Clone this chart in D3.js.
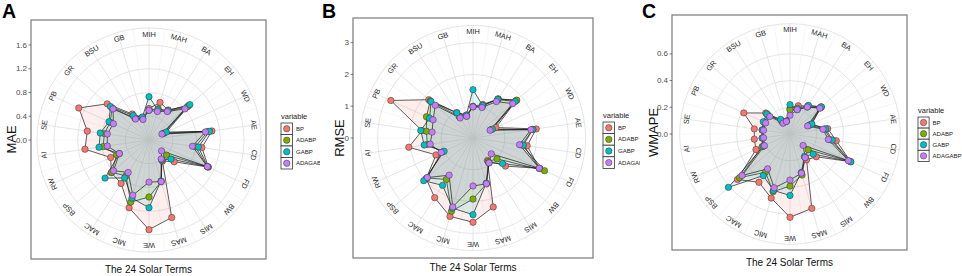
<!DOCTYPE html>
<html>
<head>
<meta charset="utf-8">
<script src="https://cdn.jsdelivr.net/npm/d3@7"></script>
<style>
    body { margin: 0; background: #fff; }
    svg { display: block; }
    text { font-family: "Liberation Sans", Arial, sans-serif; }
</style>
</head>
<body>
<div id="chart"></div>
<script>
// radar charts of the three error metrics over the solar terms

const terms = ["MIH", "MAH", "BA", "EH", "WD", "AE", "CD", "FD", "BW", "MIS", "MAS",
    "WE", "MIC", "MAC", "BSP", "RW", "AI", "SE", "PB", "GR", "BSU", "GB"];
const seriesNames = ["BP", "ADABP", "GABP", "ADAGABP"];
const seriesColors = ["#F8766D", "#7CAE00", "#00BFC4", "#C77CFF"];

// MAE
const maeBP      = [0.53, 0.66, 0.60, 0.88, 0.28, 1.07, 0.90, 1.10, 0.56, 0.42, 1.36, 1.51, 1.19, 0.87, 0.84, 0.71, 1.09, 1.05, 1.30, 0.93, 0.52, 0.40];
const maeADABP   = [0.50, 0.55, 0.58, 0.85, 0.26, 1.00, 0.79, 1.08, 0.39, 0.40, 0.73, 0.96, 1.09, 0.72, 0.83, 0.60, 0.78, 0.76, 0.72, 0.82, 0.44, 0.38];
const maeGABP    = [0.73, 0.53, 0.59, 0.91, 0.32, 1.03, 0.84, 1.09, 0.49, 0.40, 0.72, 1.14, 1.02, 0.76, 0.98, 0.55, 0.85, 0.83, 0.74, 0.86, 0.49, 0.40];
const maeADAGABP = [0.50, 0.50, 0.57, 0.80, 0.24, 0.96, 0.74, 1.08, 0.28, 0.38, 0.73, 0.71, 0.97, 0.65, 0.79, 0.55, 0.71, 0.71, 0.66, 0.80, 0.42, 0.36];
const maeTicks = [0, 0.4, 0.8, 1.2, 1.6];

// RMSE
const rmseBP      = [1.00, 1.10, 1.46, 1.80, 0.79, 2.01, 1.72, 2.30, 1.35, 0.84, 2.26, 2.65, 2.57, 2.23, 1.95, 1.28, 2.04, 1.62, 2.84, 1.84, 0.95, 0.75];
const rmseADABP   = [0.98, 1.05, 1.46, 1.82, 0.62, 1.90, 1.55, 2.47, 1.00, 0.88, 1.50, 1.92, 2.40, 1.55, 1.92, 1.05, 1.45, 1.48, 1.61, 1.78, 0.80, 0.72];
const rmseGABP    = [1.52, 1.07, 1.44, 1.75, 0.67, 1.90, 1.60, 2.30, 1.23, 0.93, 1.48, 2.41, 2.30, 1.77, 2.05, 1.00, 1.55, 1.66, 1.50, 1.75, 0.94, 0.75];
const rmseADAGABP = [0.98, 1.00, 1.36, 1.65, 0.59, 1.84, 1.48, 2.29, 0.76, 0.93, 1.50, 1.51, 2.26, 1.39, 1.90, 1.10, 1.36, 1.30, 1.38, 1.57, 0.75, 0.71];
const rmseTicks = [0, 1, 2, 3];

// WMAPE
const wmapeBP      = [0.19, 0.22, 0.25, 0.31, 0.17, 0.285, 0.35, 0.50, 0.26, 0.23, 0.58, 0.624, 0.50, 0.43, 0.52, 0.28, 0.27, 0.27, 0.38, 0.24, 0.12, 0.10];
const wmapeADABP   = [0.18, 0.19, 0.24, 0.30, 0.16, 0.26, 0.31, 0.49, 0.18, 0.21, 0.32, 0.39, 0.45, 0.34, 0.50, 0.23, 0.21, 0.21, 0.21, 0.22, 0.11, 0.10];
const wmapeGABP    = [0.22, 0.20, 0.255, 0.31, 0.18, 0.27, 0.32, 0.50, 0.23, 0.20, 0.30, 0.46, 0.44, 0.37, 0.61, 0.22, 0.21, 0.21, 0.22, 0.23, 0.13, 0.10];
const wmapeADAGABP = [0.14, 0.19, 0.24, 0.295, 0.145, 0.25, 0.29, 0.48, 0.13, 0.21, 0.305, 0.345, 0.42, 0.31, 0.475, 0.21, 0.20, 0.20, 0.20, 0.20, 0.096, 0.098];
const wmapeTicks = [0, 0.2, 0.4, 0.6];

const panels = [
    {letter: "A", metric: "MAE", series: [maeBP, maeADABP, maeGABP, maeADAGABP], ticks: maeTicks, fmt: ".1f", rMax: 1.6,
     left: 0, width: 320, cx: 149, cy: 140, R: 95, frame: [31, 20, 266, 259],
     legend: [281, 116, 11.5], yTitleX: 11, xTitleY: 273},
    {letter: "B", metric: "RMSE", series: [rmseBP, rmseADABP, rmseGABP, rmseADAGABP], ticks: rmseTicks, fmt: "d", rMax: 3,
     left: 320, width: 320, cx: 473, cy: 138, R: 95.4, frame: [353, 18, 593, 258],
     legend: [603, 115, 11.6], yTitleX: 339, xTitleY: 271},
    {letter: "C", metric: "WMAPE", series: [wmapeBP, wmapeADABP, wmapeGABP, wmapeADAGABP], ticks: wmapeTicks, fmt: ".1f", rMax: 0.7,
     left: 640, width: 322, cx: 790, cy: 134, R: 93.5, frame: [672, 15, 907, 250],
     legend: [918, 110, 11.1], yTitleX: 653, xTitleY: 266}
];

const svg = d3.select("#chart").append("svg")
    .attr("width", 962)
    .attr("height", 276);

panels.forEach((p, pi) => drawPanel(p, pi));

function drawPanel(p, pi) {
    let clipId = "clip" + pi;
    svg.append("clipPath").attr("id", clipId)
        .append("rect")
        .attr("x", p.left).attr("y", 0)
        .attr("width", p.width).attr("height", 276);

    let g = svg.append("g").attr("clip-path", "url(#" + clipId + ")");

    let [fx0, fy0, fx1, fy1] = p.frame;

    // scales
    let r = d3.scaleLinear().domain([0, p.rMax]).range([0, p.R]);
    let angle = d3.scaleLinear().domain([0, terms.length]).range([0, 2 * Math.PI]);
    let outerR = p.R * 1.18;

    let polar = g.append("g").attr("transform", "translate(" + p.cx + "," + p.cy + ")");

    // spokes (major at terms, minor between)
    d3.range(terms.length * 2).forEach(k => {
        let [x, y] = d3.pointRadial(angle(k / 2), outerR);
        polar.append("line")
            .attr("x1", 0).attr("y1", 0)
            .attr("x2", x).attr("y2", y)
            .attr("stroke", k % 2 === 0 ? "#DADADA" : "#ECECEC")
            .attr("stroke-width", k % 2 === 0 ? 0.7 : 0.5);
    });

    // radial grid circles
    polar.selectAll(".ring")
        .data(p.ticks.filter(t => t > 0))
        .enter().append("circle")
        .attr("r", d => r(d))
        .attr("fill", "none")
        .attr("stroke", "#DADADA")
        .attr("stroke-width", 0.7);

    polar.append("circle")
        .attr("r", outerR)
        .attr("fill", "none")
        .attr("stroke", "#DADADA")
        .attr("stroke-width", 0.7);

    // term labels, rotated along the ring
    terms.forEach((t, i) => {
        let [x, y] = d3.pointRadial(angle(i), p.R * 1.115);
        polar.append("text")
            .attr("transform", "translate(" + x + "," + y + ") rotate(" + (angle(i) * 180 / Math.PI) + ")")
            .attr("text-anchor", "middle")
            .attr("dominant-baseline", "central")
            .attr("font-size", 7.4)
            .attr("fill", "#2b2b2b")
            .text(t);
    });

    // polygons
    let radar = d3.lineRadial()
        .angle((d, i) => angle(i))
        .radius(d => r(d))
        .curve(d3.curveLinearClosed);

    p.series.forEach((s, si) => {
        polar.append("path")
            .attr("d", radar(s))
            .attr("fill", seriesColors[si])
            .attr("fill-opacity", 0.12)
            .attr("stroke", "#1a1a1a")
            .attr("stroke-width", 0.7);
    });

    // points
    p.series.forEach((s, si) => {
        polar.selectAll(".pt" + si)
            .data(s)
            .enter().append("circle")
            .attr("cx", (d, i) => d3.pointRadial(angle(i), r(d))[0])
            .attr("cy", (d, i) => d3.pointRadial(angle(i), r(d))[1])
            .attr("r", 3.2)
            .attr("fill", seriesColors[si])
            .attr("stroke", "#333")
            .attr("stroke-width", 0.5);
    });

    // panel border
    g.append("rect")
        .attr("x", fx0).attr("y", fy0)
        .attr("width", fx1 - fx0).attr("height", fy1 - fy0)
        .attr("fill", "none")
        .attr("stroke", "#7a7a7a")
        .attr("stroke-width", 1.2);

    // radial axis on the left
    let fmt = d3.format(p.fmt);
    p.ticks.forEach(t => {
        let y = p.cy - r(t);
        g.append("line")
            .attr("x1", fx0 - 2.5).attr("x2", fx0)
            .attr("y1", y).attr("y2", y)
            .attr("stroke", "#333").attr("stroke-width", 0.6);
        g.append("text")
            .attr("x", fx0 - 4).attr("y", y)
            .attr("text-anchor", "end")
            .attr("dominant-baseline", "central")
            .attr("font-size", 8)
            .attr("fill", "#4D4D4D")
            .text(fmt(t));
    });

    // titles
    g.append("text")
        .attr("transform", "translate(" + p.yTitleX + "," + ((fy0 + fy1) / 2) + ") rotate(-90)")
        .attr("text-anchor", "middle")
        .attr("dominant-baseline", "central")
        .attr("font-size", 13)
        .attr("fill", "#111")
        .text(p.metric);

    g.append("text")
        .attr("x", (fx0 + fx1) / 2).attr("y", p.xTitleY)
        .attr("text-anchor", "middle")
        .attr("font-size", 10)
        .attr("fill", "#111")
        .text("The 24 Solar Terms");

    g.append("text")
        .attr("x", p.left + 2).attr("y", 18)
        .attr("font-size", 19.5)
        .attr("font-weight", "bold")
        .attr("fill", "#000")
        .text(p.letter);

    // legend
    let [lx, ly, kh] = p.legend;
    g.append("text")
        .attr("x", lx).attr("y", ly)
        .attr("dominant-baseline", "central")
        .attr("font-size", 7.5)
        .attr("fill", "#222")
        .text("variable");

    seriesNames.forEach((name, si) => {
        let ky = ly + 7 + si * kh;
        g.append("rect")
            .attr("x", lx).attr("y", ky)
            .attr("width", kh).attr("height", kh)
            .attr("fill", "#fff")
            .attr("stroke", "#333")
            .attr("stroke-width", 0.8);
        g.append("circle")
            .attr("cx", lx + kh / 2).attr("cy", ky + kh / 2)
            .attr("r", 3.2)
            .attr("fill", seriesColors[si])
            .attr("stroke", "#333")
            .attr("stroke-width", 0.5);
        g.append("text")
            .attr("x", lx + kh + 3.5).attr("y", ky + kh / 2)
            .attr("dominant-baseline", "central")
            .attr("font-size", 6)
            .attr("fill", "#222")
            .text(name);
    });
}
</script>
</body>
</html>
